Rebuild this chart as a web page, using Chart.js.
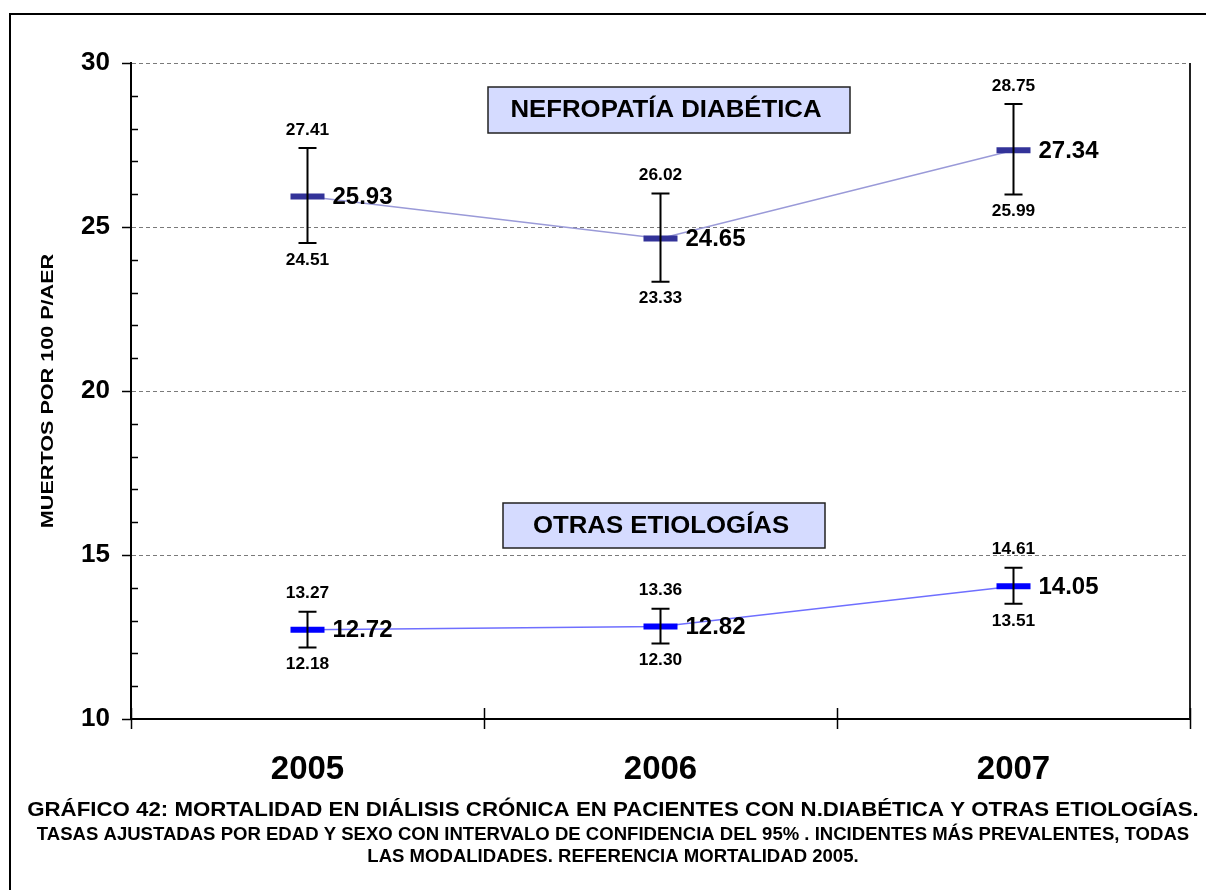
<!DOCTYPE html>
<html lang="es">
<head>
<meta charset="utf-8">
<title>Gráfico 42 - Mortalidad en diálisis crónica</title>
<script src="https://cdn.jsdelivr.net/npm/chart.js@4.4.1/dist/chart.umd.min.js"></script>
<style>
  html, body { margin: 0; padding: 0; background: #fff; }
  #chart { display: block; }
</style>
</head>
<body>
<canvas id="chart" width="1206" height="890"></canvas>
<script>
// Datos
const years = ['2005', '2006', '2007'];

const nefroMean = [25.93, 24.65, 27.34];
const nefroLow  = [24.51, 23.33, 25.99];
const nefroHigh = [27.41, 26.02, 28.75];

const otrasMean = [12.72, 12.82, 14.05];
const otrasLow  = [12.18, 12.30, 13.51];
const otrasHigh = [13.27, 13.36, 14.61];

const yMin = 10;
const yMax = 30;

const FONT = "'Liberation Sans', Arial, Helvetica, sans-serif";

const captionLines = [
  { text: 'GRÁFICO 42: MORTALIDAD EN DIÁLISIS CRÓNICA EN PACIENTES CON N.DIABÉTICA Y OTRAS ETIOLOGÍAS.', size: 21, y: 810 },
  { text: 'TASAS AJUSTADAS POR EDAD Y SEXO CON INTERVALO DE CONFIDENCIA DEL 95% . INCIDENTES MÁS PREVALENTES, TODAS', size: 17.5, y: 835 },
  { text: 'LAS MODALIDADES. REFERENCIA MORTALIDAD 2005.', size: 17.5, y: 857 },
];

const series = [
  { mean: nefroMean, low: nefroLow, high: nefroHigh },
  { mean: otrasMean, low: otrasLow, high: otrasHigh },
];

// text drawn a bit wider than the font, like the original export
function wideText(ctx, text, x, y, size, stretch, align) {
  ctx.save();
  ctx.translate(x, y);
  ctx.scale(stretch, 1);
  ctx.font = 'bold ' + size + 'px ' + FONT;
  ctx.textAlign = align || 'center';
  ctx.textBaseline = 'middle';
  ctx.fillStyle = '#000';
  ctx.fillText(text, 0, 0);
  ctx.restore();
}

// Error bars, value labels, boxes, frame and captions
const extrasPlugin = {
  id: 'extras',
  afterDraw(chart) {
    const { ctx, chartArea: area } = chart;
    const xs = chart.scales.x;
    const ys = chart.scales.y;

    ctx.save();

    // outer frame (top and left only visible)
    ctx.strokeStyle = '#000';
    ctx.lineWidth = 2;
    ctx.beginPath();
    ctx.moveTo(10, 890);
    ctx.lineTo(10, 14);
    ctx.lineTo(1206, 14);
    ctx.stroke();

    // right border of plot
    ctx.strokeStyle = '#222';
    ctx.lineWidth = 2;
    ctx.beginPath();
    ctx.moveTo(area.right, area.top);
    ctx.lineTo(area.right, area.bottom);
    ctx.stroke();

    // y ticks: major outside, minor inside
    ctx.strokeStyle = '#000';
    ctx.lineWidth = 1.5;
    for (let v = yMin; v <= yMax; v++) {
      const y = Math.round(ys.getPixelForValue(v)) + 0.5;
      ctx.beginPath();
      if (v % 5 === 0) {
        ctx.moveTo(area.left - 9, y);
        ctx.lineTo(area.left, y);
      } else {
        ctx.moveTo(area.left, y);
        ctx.lineTo(area.left + 7, y);
      }
      ctx.stroke();
    }

    // x ticks at category boundaries, crossing the axis
    const half = (xs.getPixelForValue(1) - xs.getPixelForValue(0)) / 2;
    for (let i = 0; i <= years.length; i++) {
      const x = Math.round(xs.getPixelForValue(0) - half + i * half * 2) + 0.5;
      ctx.beginPath();
      ctx.moveTo(x, area.bottom - 11);
      ctx.lineTo(x, area.bottom + 10);
      ctx.stroke();
    }

    // error bars and labels
    series.forEach(s => {
      s.mean.forEach((m, j) => {
        const x = xs.getPixelForValue(j);
        const yM = ys.getPixelForValue(m);
        const yL = ys.getPixelForValue(s.low[j]);
        const yH = ys.getPixelForValue(s.high[j]);

        ctx.strokeStyle = '#000';
        ctx.lineWidth = 2;
        ctx.beginPath();
        ctx.moveTo(x, yH);
        ctx.lineTo(x, yL);
        ctx.moveTo(x - 9, yH);
        ctx.lineTo(x + 9, yH);
        ctx.moveTo(x - 9, yL);
        ctx.lineTo(x + 9, yL);
        ctx.stroke();

        wideText(ctx, s.high[j].toFixed(2), x, yH - 18, 17, 1.02);
        wideText(ctx, s.low[j].toFixed(2), x, yL + 17, 17, 1.02);
        wideText(ctx, m.toFixed(2), x + 25, yM + 1, 24, 1.0, 'left');
      });
    });

    // series name boxes
    const boxes = [
      { text: 'NEFROPATÍA DIABÉTICA', x: 488, y: 87, w: 362, h: 46 },
      { text: 'OTRAS ETIOLOGÍAS', x: 503, y: 503, w: 322, h: 45 },
    ];
    boxes.forEach(b => {
      ctx.fillStyle = '#d5dbff';
      ctx.fillRect(b.x, b.y, b.w, b.h);
      ctx.strokeStyle = '#222';
      ctx.lineWidth = 1.5;
      ctx.strokeRect(b.x, b.y, b.w, b.h);
      wideText(ctx, b.text, b.x + b.w / 2 - 3, b.y + b.h / 2 + 1, 23, 1.12);
    });

    // y axis title
    ctx.save();
    ctx.translate(48, (area.top + area.bottom) / 2);
    ctx.rotate(-Math.PI / 2);
    wideText(ctx, 'MUERTOS POR 100 P/AER', 0, 0, 17, 1.27);
    ctx.restore();

    // caption
    captionLines.forEach(l => {
      wideText(ctx, l.text, 613, l.y, l.size, 1.06);
    });

    ctx.restore();
  }
};

new Chart(document.getElementById('chart'), {
  type: 'line',
  data: {
    labels: years,
    datasets: [
      {
        label: 'Nefropatía diabética',
        data: nefroMean,
        borderColor: '#9a9ad8',
        borderWidth: 1.5,
        pointStyle: 'line',
        pointRadius: 17,
        pointBorderWidth: 6,
        pointBorderColor: '#333399',
        pointHoverRadius: 17,
        tension: 0,
      },
      {
        label: 'Otras etiologías',
        data: otrasMean,
        borderColor: '#6f6fff',
        borderWidth: 1.5,
        pointStyle: 'line',
        pointRadius: 17,
        pointBorderWidth: 6,
        pointBorderColor: '#0000ff',
        pointHoverRadius: 17,
        tension: 0,
      },
    ],
  },
  options: {
    responsive: false,
    animation: false,
    devicePixelRatio: 1,
    events: [],
    layout: {
      autoPadding: false,
      padding: { top: 63, right: 16, left: 0, bottom: 0 },
    },
    plugins: {
      legend: { display: false },
      tooltip: { enabled: false },
    },
    scales: {
      x: {
        type: 'category',
        offset: true,
        grid: { display: false },
        border: { color: '#000', width: 2 },
        ticks: {
          color: '#000',
          font: { family: FONT, size: 33, weight: 'bold' },
          padding: 23,
        },
        afterFit: (scale) => {
          scale.height = 171;
          scale.paddingLeft = 0;
          scale.paddingRight = 0;
        },
      },
      y: {
        min: yMin,
        max: yMax,
        grid: {
          drawTicks: false,
          lineWidth: 1,
          color: (c) => (c.tick && c.tick.value % 5 === 0 && c.tick.value > yMin) ? '#7a7a7a' : 'rgba(0,0,0,0)',
        },
        border: { color: '#000', width: 2, dash: [4, 3] },
        ticks: {
          stepSize: 1,
          autoSkip: false,
          color: '#000',
          padding: 21,
          font: { family: FONT, size: 26, weight: 'bold' },
          callback: (v) => (v % 5 === 0 ? v : ''),
        },
        afterFit: (scale) => { scale.width = 131; },
      },
    },
  },
  plugins: [extrasPlugin],
});
</script>
</body>
</html>
